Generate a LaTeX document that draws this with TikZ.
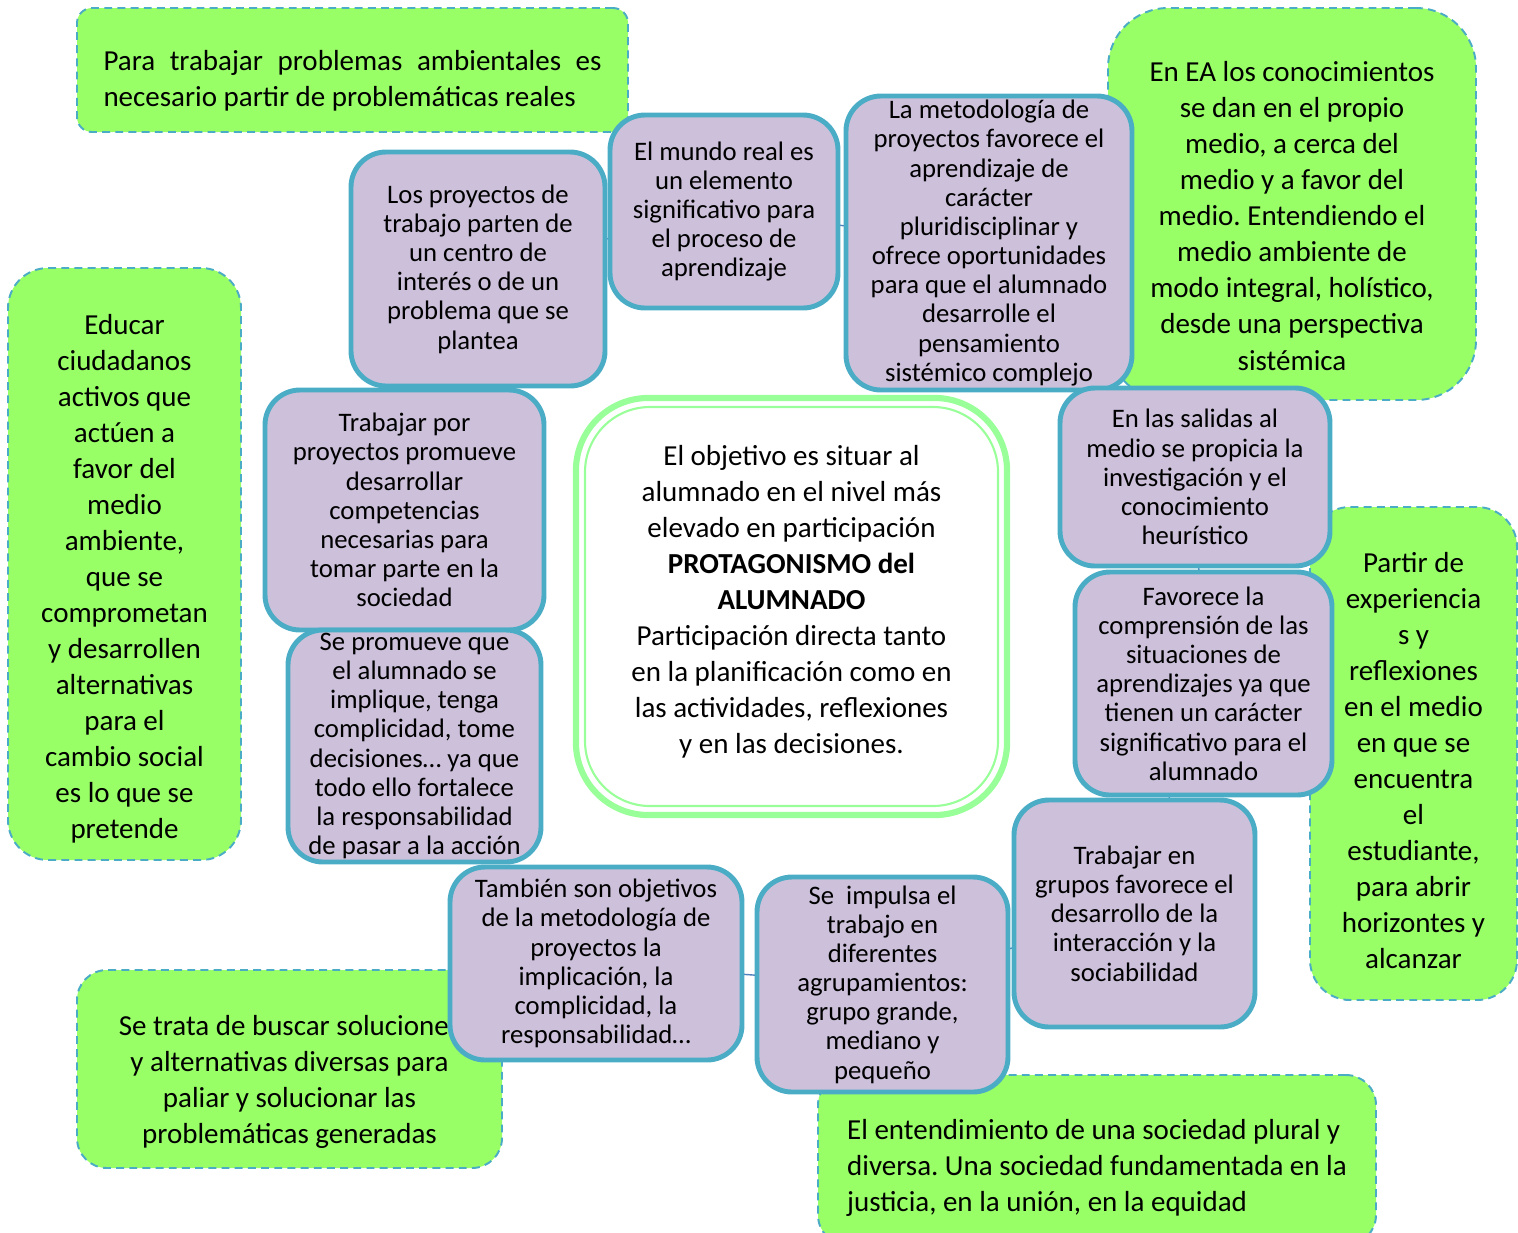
\documentclass[tikz,border=0pt]{standalone}
\usepackage{fontspec}
\setmainfont{Carlito}
\usepackage{xcolor}
\usepackage{tikz}
\usetikzlibrary{backgrounds}
\frenchspacing
\definecolor{leafgreen}{RGB}{153, 255, 102}
\definecolor{edgeblue}{RGB}{75, 172, 198}
\definecolor{lilac}{RGB}{204, 192, 218}
\definecolor{ringgreen}{RGB}{153, 255, 153}
\definecolor{linkblue}{RGB}{79, 129, 189}
\newcommand{\notefont}{\fontsize{16.5}{20.5}\selectfont}
\newcommand{\boxfont}{\fontsize{15.2}{16.6}\selectfont}

\begin{document}
\begin{tikzpicture}[
                gbox/.style={draw=edgeblue, dash pattern=on 4.5pt off 3pt, line width=1.1pt,
                             fill=leafgreen, align=center, font=\notefont, inner sep=0pt},
                pbox/.style={draw=edgeblue, line width=2.8pt, fill=lilac, rounded corners=0.7cm,
                             align=center, font=\boxfont, inner sep=0pt},
                link/.style={linkblue, line width=0.8pt}]
                \useasboundingbox (0,0) rectangle (30.36,-24.64);

                % purple idea boxes
                \node[pbox, minimum width=5.08cm, minimum height=4.68cm] (proyectos) at (9.56,-5.38)
                      {Los proyectos de\\ trabajo parten de\\ un centro de\\ interés o de un\\ problema que se\\ plantea};
                \node[pbox, minimum width=4.56cm, minimum height=3.86cm] (mundo) at (14.48,-4.23)
                      {El mundo real es\\ un elemento\\ significativo para\\ el proceso de\\ aprendizaje};
                \node[pbox, minimum width=5.72cm, minimum height=5.88cm] (metodo) at (19.78,-4.86)
                      {La metodología de\\ proyectos favorece el\\ aprendizaje de\\ carácter\\ pluridisciplinar y\\
                       ofrece oportunidades\\ para que el alumnado\\ desarrolle el\\ pensamiento\\ sistémico complejo};
                \node[pbox, minimum width=5.58cm, minimum height=4.8cm] (trabajar) at (8.09,-10.2)
                      {Trabajar por\\ proyectos promueve\\ desarrollar\\ competencias\\ necesarias para\\ tomar parte en la\\ sociedad};
                \node[pbox, minimum width=5.06cm, minimum height=4.64cm] (promueve) at (8.29,-14.92)
                      {Se promueve que\\ el alumnado se\\ implique, tenga\\ complicidad, tome\\ decisiones… ya que\\
                       todo ello fortalece\\ la responsabilidad\\ de pasar a la acción};
                \node[pbox, minimum width=5.4cm, minimum height=3.56cm] (salidas) at (23.9,-9.54)
                      {En las salidas al\\ medio se propicia la\\ investigación y el\\ conocimiento\\ heurístico};
                \node[pbox, minimum width=5.14cm, minimum height=4.46cm] (favorece) at (24.07,-13.67)
                      {Favorece la\\ comprensión de las\\ situaciones de\\ aprendizajes ya que\\ tienen un carácter\\
                       significativo para el\\ alumnado};
                \node[pbox, minimum width=4.82cm, minimum height=4.54cm] (grupos) at (22.69,-18.27)
                      {Trabajar en\\ grupos favorece el\\ desarrollo de la\\ interacción y la\\ sociabilidad};
                \node[pbox, minimum width=5.02cm, minimum height=4.3cm] (impulsa) at (17.65,-19.69)
                      {Se\ \ impulsa el\\ trabajo en\\ diferentes\\ agrupamientos:\\ grupo grande,\\ mediano y\\ pequeño};
                \node[pbox, minimum width=5.84cm, minimum height=3.86cm] (tambien) at (11.92,-19.27)
                      {También son objetivos\\ de la metodología de\\ proyectos la\\ implicación, la\\ complicidad, la\\ responsabilidad…};

                % central box with double ring
                \node[draw=ringgreen, line width=1.2pt, fill=white, rounded corners=1.3cm,
                      minimum width=8.26cm, minimum height=7.98cm, align=center, font=\notefont] (objetivo) at (15.83,-12.13)
                      {El objetivo es situar al\\ alumnado en el nivel más\\ elevado en participación\\
                       \textbf{PROTAGONISMO del}\\ \textbf{ALUMNADO}\\ Participación directa tanto\\
                       en la planificación como en\\ las actividades, reflexiones\\ y en las decisiones.\rule[-0.28cm]{0pt}{1pt}};
                \draw[ringgreen, line width=3.5pt, rounded corners=1.45cm]
                      ([shift={(-0.16,0.16)}]objetivo.north west) rectangle ([shift={(0.16,-0.16)}]objetivo.south east);

                \begin{scope}[on background layer]
                % green notes
                \node[gbox, rounded corners=0.3cm, minimum width=11.02cm, minimum height=2.48cm,
                      text width=9.96cm, align=flush left] (reales) at (7.05,-1.4)
                      {\rule{0pt}{0.84cm}\makebox[9.96cm][s]{Para trabajar problemas ambientales es}\\ necesario partir de problemáticas reales};
                \node[gbox, rounded corners=1.2cm, minimum width=7.36cm, minimum height=7.84cm] (conocimientos) at (25.84,-4.08)
                      {\rule{0pt}{0.88cm}En EA los conocimientos\\ se dan en el propio\\ medio, a cerca del\\ medio y a favor del\\ medio. Entendiendo el\\
                       medio ambiente de\\ modo integral, holístico,\\ desde una perspectiva\\ sistémica};
                \node[gbox, rounded corners=0.8cm, minimum width=4.66cm, minimum height=11.84cm] (educar) at (2.49,-11.28)
                      {\rule{0pt}{1.0cm}Educar\\ ciudadanos\\ activos que\\ actúen a\\ favor del\\ medio\\ ambiente,\\ que se\\ comprometan\\
                       y desarrollen\\ alternativas\\ para el\\ cambio social\\ es lo que se\\ pretende};
                \node[gbox, rounded corners=0.8cm, minimum width=4.14cm, minimum height=9.86cm] (partir) at (28.27,-15.07)
                      {\rule{0pt}{0.68cm}Partir de\\ experiencia\\ s y\\ reflexiones\\ en el medio\\ en que se\\ encuentra\\ el\\ estudiante,\\
                       para abrir\\ horizontes y\\ alcanzar};
                \node[gbox, rounded corners=0.6cm, minimum width=8.5cm, minimum height=3.96cm] (soluciones) at (5.79,-21.38)
                      {\rule{0pt}{0.92cm}Se trata de buscar soluciones\\ y alternativas diversas para\\ paliar y solucionar las\\ problemáticas generadas};
                \node[gbox, rounded corners=0.6cm, minimum width=11.16cm, minimum height=3.4cm,
                      align=left] (sociedad) at (21.94,-23.2)
                      {\rule{0pt}{0.72cm}El entendimiento de una sociedad plural y\\ diversa. Una sociedad fundamentada en la\\ justicia, en la unión, en la equidad};

                % thin links between neighbouring boxes
                \foreach \a/\b in {proyectos/mundo, mundo/metodo, metodo/salidas, salidas/favorece,
                                   favorece/grupos, grupos/impulsa, impulsa/tambien}
                      \draw[link] (\a.center) -- (\b.center);
                \end{scope}
            \end{tikzpicture}
\end{document}
